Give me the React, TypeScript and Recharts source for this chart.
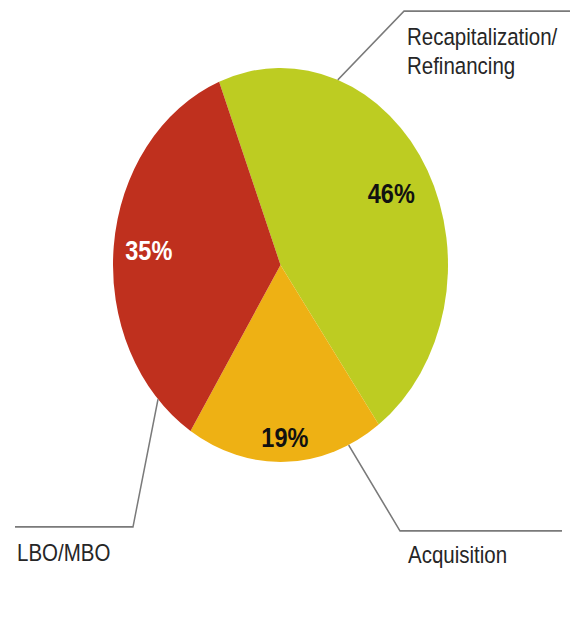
import { PieChart, Pie, Cell } from "recharts";

// Deal purpose split, clockwise from the top-left
const categories = ["Recapitalization/Refinancing", "Acquisition", "LBO/MBO"];
const categoryLines = [["Recapitalization/", "Refinancing"], ["Acquisition"], ["LBO/MBO"]];
const shares = [46, 19, 35];
const sliceColors = ["#bdcc22", "#eeb114", "#bf301e"];
const pctColors = ["#111111", "#111111", "#ffffff"];

const data = categories.map((name, i) => ({ name, value: shares[i] }));

// the source image is stretched vertically; draw a round pie and stretch it
const STRETCH = 1.176;
const W = 570;
const H = 630 / STRETCH;
const RAD = Math.PI / 180;

// where the percentage sits, as a fraction of the radius
const pctRadius = [0.754, 0.875, 0.79];

// leader lines: anchor angle on the rim (deg clockwise from 12 o'clock), elbow, end, text
const leaders = [
  { anchor: 20, elbow: [404, 9.5], end: [570, 9.5], textX: 407, textY: 38.5 },
  { anchor: 156, elbow: [400, 451.5], end: [562, 451.5], textX: 408, textY: 479 },
  { anchor: 227, elbow: [133, 448], end: [15, 448], textX: 17, textY: 477 },
];

const font = "'Liberation Sans', Arial, Helvetica, sans-serif";

function renderLabel(props: any) {
  const { cx, cy, midAngle, outerRadius, index } = props;
  const r = outerRadius * pctRadius[index];
  const px = cx + r * Math.cos(-midAngle * RAD);
  const py = cy + r * Math.sin(-midAngle * RAD);
  const ld = leaders[index];
  const ax = cx + outerRadius * Math.sin(ld.anchor * RAD);
  const ay = cy - outerRadius * Math.cos(ld.anchor * RAD);
  return (
    <g key={`lbl-${index}`}>
      <text
        x={px}
        y={py}
        textAnchor="middle"
        dominantBaseline="central"
        fill={pctColors[index]}
        fontFamily={font}
        fontWeight="bold"
        fontSize={23.5}
      >
        {`${shares[index]}%`}
      </text>
      <polyline
        points={`${ax},${ay} ${ld.elbow[0]},${ld.elbow[1]} ${ld.end[0]},${ld.end[1]}`}
        fill="none"
        stroke="#7a7a7a"
        strokeWidth={1.5}
      />
      <text x={ld.textX} y={ld.textY} fill="#262626" fontFamily={font} fontSize={20.5}>
        {categoryLines[index].map((line, j) => (
          <tspan key={j} x={ld.textX} dy={j === 0 ? 0 : 24.5}>
            {line}
          </tspan>
        ))}
      </text>
    </g>
  );
}

export default function App() {
  return (
    <div
      style={{
        position: "absolute",
        left: 0,
        top: 0,
        width: W,
        height: H,
        background: "#fff",
        transform: `scaleY(${STRETCH})`,
        transformOrigin: "0 0",
      }}
    >
      <PieChart width={W} height={H} margin={{ top: 0, right: 0, bottom: 0, left: 0 }}>
        <Pie
          data={data}
          dataKey="value"
          nameKey="name"
          cx={280.5}
          cy={225.3}
          outerRadius={167.5}
          startAngle={111.5}
          endAngle={111.5 - 360}
          stroke="none"
          label={renderLabel}
          labelLine={false}
          isAnimationActive={false}
        >
          {data.map((d, i) => (
            <Cell key={d.name} fill={sliceColors[i]} />
          ))}
        </Pie>
      </PieChart>
    </div>
  );
}
